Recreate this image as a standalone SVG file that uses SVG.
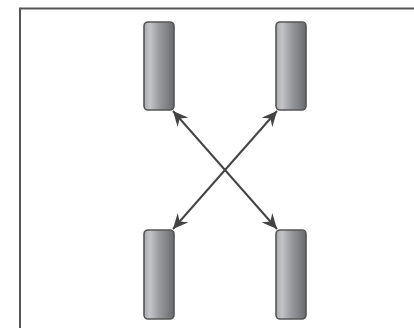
<svg xmlns="http://www.w3.org/2000/svg" width="414" height="328" viewBox="0 0 414 328">
<defs>
<linearGradient id="g" x1="0" y1="0" x2="1" y2="0">
<stop offset="0" stop-color="#a8a9ad"/>
<stop offset="0.2" stop-color="#c4c5c8"/>
<stop offset="0.5" stop-color="#9a9b9e"/>
<stop offset="1" stop-color="#6a6b6e"/>
</linearGradient>
<marker id="ah" markerUnits="userSpaceOnUse" markerWidth="16" markerHeight="14" refX="15" refY="7" orient="auto-start-reverse">
<path d="M0,0 L15,7 L0,14 L5,7 Z" fill="#444"/>
</marker>
<style>
.n{fill:url(#g);stroke:#555;stroke-width:1.6}
.c{stroke:#444;stroke-width:2;fill:none}
</style>
</defs>
<rect width="414" height="328" fill="#fff"/>
<path d="M20,328 L20,8.5 L414,8.5" fill="none" stroke="#555" stroke-width="2"/>
<g id="n1"><rect class="n" x="144" y="22" width="30" height="88" rx="4"/></g>
<g id="n2"><rect class="n" x="276" y="22" width="30" height="88" rx="4"/></g>
<g id="n3"><rect class="n" x="144" y="230" width="30" height="89" rx="4"/></g>
<g id="n4"><rect class="n" x="276" y="230" width="30" height="89" rx="4"/></g>
<g id="connectors">
<line class="c" x1="173" y1="111" x2="277" y2="229" marker-start="url(#ah)" marker-end="url(#ah)"/>
<line class="c" x1="277" y1="111" x2="173" y2="229" marker-start="url(#ah)" marker-end="url(#ah)"/>
</g>
</svg>
